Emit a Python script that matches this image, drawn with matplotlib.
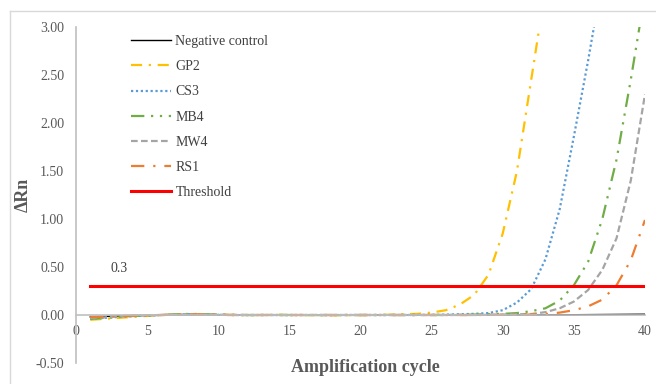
import matplotlib.pyplot as plt
from matplotlib.lines import Line2D

plt.rcParams['font.family'] = ['Liberation Serif', 'DejaVu Serif']

cycles = list(range(1, 41))

neg_control = [-0.02, -0.015, -0.01, -0.006, -0.003, 0.0, 0.002, 0.003, 0.002, 0.001,
               0.0, 0.0, 0.0, -0.001, 0.0, 0.0, 0.0, 0.0, 0.0, 0.0,
               0.0, 0.0, 0.0, 0.0, 0.0, 0.0, 0.0, 0.0, 0.0, 0.0,
               0.001, 0.001, 0.002, 0.002, 0.003, 0.004, 0.005, 0.006, 0.007, 0.008]
gp2 = [-0.05, -0.04, -0.03, -0.02, -0.01, 0.0, 0.005, 0.01, 0.006, 0.003,
       0.0, -0.002, 0.0, 0.001, 0.0, -0.001, -0.002, -0.003, -0.002, -0.001,
       0.0, 0.003, 0.008, 0.012, 0.025, 0.05, 0.11, 0.21, 0.42, 0.85,
       1.5, 2.45, 3.4, 4.3, 5.0, 5.5, 5.8, 6.0, 6.1, 6.2]
cs3 = [-0.04, -0.03, -0.02, -0.012, -0.006, 0.0, 0.004, 0.008, 0.005, 0.002,
       0.0, -0.001, 0.0, 0.0, -0.001, 0.0, 0.0, -0.001, 0.0, 0.0,
       0.0, 0.0, 0.0, 0.001, 0.002, 0.004, 0.008, 0.012, 0.02, 0.05,
       0.13, 0.27, 0.58, 1.1, 1.86, 2.65, 3.5, 4.2, 4.7, 5.0]
mb4 = [-0.04, -0.03, -0.02, -0.01, -0.005, 0.0, 0.006, 0.012, 0.008, 0.004,
       0.002, 0.0, 0.0, 0.001, 0.0, 0.0, -0.001, 0.0, 0.0, 0.0,
       0.0, 0.0, 0.0, 0.0, 0.0, 0.0, 0.002, 0.004, 0.008, 0.012,
       0.02, 0.04, 0.07, 0.15, 0.31, 0.555, 1.0, 1.62, 2.45, 3.35]
mw4 = [-0.03, -0.025, -0.015, -0.01, -0.005, 0.0, 0.004, 0.008, 0.006, 0.003,
       0.001, 0.0, 0.0, 0.0, 0.0, 0.0, 0.0, 0.0, 0.0, 0.0,
       0.0, 0.0, 0.0, 0.0, 0.0, 0.0, 0.0, 0.0, 0.002, 0.005,
       0.008, 0.01, 0.03, 0.07, 0.14, 0.26, 0.47, 0.8, 1.4, 2.3]
rs1 = [-0.02, -0.015, -0.01, -0.006, -0.002, 0.0, 0.003, 0.006, 0.004, 0.002,
       0.0, 0.0, 0.0, 0.0, 0.0, 0.0, 0.0, 0.0, 0.0, 0.0,
       0.0, 0.0, 0.0, 0.0, 0.0, 0.0, 0.0, 0.0, 0.001, 0.002,
       0.003, 0.005, 0.01, 0.025, 0.05, 0.09, 0.16, 0.31, 0.57, 0.99]
threshold = 0.3

series = [
    ('Negative control', neg_control, '#000000', 1.0, None),
    ('GP2', gp2, '#FFC000', 1.6, (5, 3, 1, 3)),
    ('CS3', cs3, '#5B9BD5', 1.6, (1, 1.2)),
    ('MB4', mb4, '#70AD47', 1.6, (6, 3, 1, 3, 1, 3)),
    ('MW4', mw4, '#A5A5A5', 1.6, (3, 1.5)),
    ('RS1', rs1, '#ED7D31', 1.6, (6, 4, 1, 4)),
]

fig = plt.figure(figsize=(6.56, 3.84), dpi=100)
ax = fig.add_axes([76 / 656, 1 - 363 / 384, (645 - 76) / 656, (363 - 27) / 384])

for name, vals, col, lw, dash in series:
    line, = ax.plot(cycles, vals, color=col, lw=lw, label=name)
    if dash:
        line.set_dashes(dash)
ax.plot([cycles[0], cycles[-1]], [threshold, threshold], color='#FF0000', lw=2.2, label='Threshold')
ax.text(2.4, 0.45, '0.3', fontsize=10, color='#404040')

ax.set_xlim(0, 40)
ax.set_ylim(-0.5, 3.0)
ax.set_xticks(range(0, 41, 5))
ax.set_yticks([-0.5, 0, 0.5, 1.0, 1.5, 2.0, 2.5, 3.0])
ax.set_yticklabels(['%.2f' % v for v in ax.get_yticks()])
ax.tick_params(length=0, labelsize=10, colors='#595959')
ax.tick_params(axis='y', pad=8.5)
ax.tick_params(axis='x', pad=7)
for s in ['top', 'right']:
    ax.spines[s].set_visible(False)
ax.spines['bottom'].set_position(('data', 0))
ax.spines['bottom'].set_color('#BFBFBF')
ax.spines['left'].set_color('#BFBFBF')
ax.spines['bottom'].set_linewidth(1.2)
ax.spines['left'].set_linewidth(1.2)

fig.text(365 / 656, 1 - 367 / 384, 'Amplification cycle', ha='center', va='center',
         fontsize=13, fontweight='bold', color='#595959')
fig.text(23 / 656, 1 - 195 / 384, 'ΔRn', ha='center', va='center', rotation=90,
         fontsize=13, fontweight='bold', color='#595959')

leg = ax.legend(loc='upper left', bbox_to_anchor=(131 / 656, 1 - 35 / 384), bbox_transform=fig.transFigure,
                frameon=False, fontsize=10, handlelength=2.9, handletextpad=0.3, labelspacing=0.88,
                borderaxespad=0, borderpad=0)
for t in leg.get_texts():
    t.set_color('#404040')

fig.add_artist(Line2D([10 / 656, 10 / 656], [0, 1 - 11 / 384], transform=fig.transFigure, color='#D9D9D9', lw=1))
fig.add_artist(Line2D([10 / 656, 1], [1 - 11 / 384, 1 - 11 / 384], transform=fig.transFigure, color='#D9D9D9', lw=1))

fig.savefig('out.png', dpi=100)
